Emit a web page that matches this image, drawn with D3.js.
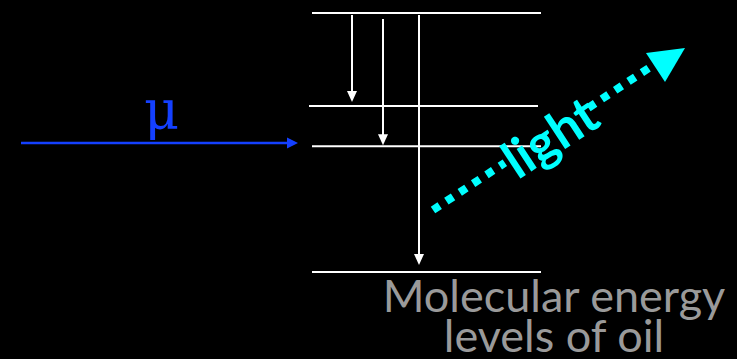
<!DOCTYPE html>
<html><head><meta charset="utf-8">
<script src="https://cdn.jsdelivr.net/npm/d3@7"></script>
<style>html,body{margin:0;padding:0;background:#000;}svg{display:block;}</style>
</head><body>
<script>
// Energy levels (arbitrary energy units, top = excited state)
const levelNames = ["excited", "level2", "level3", "ground"];
const levelEnergy = [10, 6.41, 4.86, 0];
// Transitions (downward arrows): from level -> to level
const transFrom = ["excited", "excited", "excited"];
const transTo = ["level2", "level3", "ground"];
// Labels
const muLabel = "μ";
const lightLabel = "light";
const captionLines = ["Molecular energy", "levels of oil"];

const W = 737, H = 359;
const svg = d3.select("body").append("svg").attr("width", W).attr("height", H)
  .style("background", "#000");

const y = d3.scaleLinear().domain([0, 10]).range([272, 13]);
const eOf = Object.fromEntries(levelNames.map((n, i) => [n, levelEnergy[i]]));
const levelX = d3.scaleOrdinal().domain(levelNames).range([[312, 541], [309, 538], [312, 541], [312, 541]]);
const transX = d3.scaleOrdinal().domain(d3.range(transFrom.length)).range([352, 383, 419]);
const tipGap = [4, 1, 7];
const startGap = [2, 6, 2];

// levels
svg.selectAll("line.level").data(levelNames).join("line")
  .attr("class", "level")
  .attr("x1", d => levelX(d)[0]).attr("x2", d => levelX(d)[1])
  .attr("y1", d => y(eOf[d])).attr("y2", d => y(eOf[d]))
  .attr("stroke", "#fff").attr("stroke-width", 2);

// transition arrows
const trans = transFrom.map((f, i) => ({ i, y0: y(eOf[f]) + startGap[i], y1: y(eOf[transTo[i]]) - tipGap[i] }));
svg.selectAll("line.tr").data(trans).join("line")
  .attr("x1", d => transX(d.i)).attr("x2", d => transX(d.i))
  .attr("y1", d => d.y0).attr("y2", d => d.y1 - 6)
  .attr("stroke", "#fff").attr("stroke-width", 2);
svg.selectAll("path.trh").data(trans).join("path")
  .attr("d", d => { const x = transX(d.i); return `M${x - 5},${d.y1 - 11}L${x + 5},${d.y1 - 11}L${x},${d.y1}Z`; })
  .attr("fill", "#fff");

// incoming muon
const blue = "#1440ff";
svg.append("line").attr("x1", 21).attr("x2", 290).attr("y1", 143).attr("y2", 143)
  .attr("stroke", blue).attr("stroke-width", 2.7);
svg.append("path").attr("d", "M287,137.5L298,143L287,148.5Z").attr("fill", blue);
svg.append("text").attr("x", 144).attr("y", 129).text(muLabel)
  .attr("font-family", "DejaVu Serif").attr("font-size", 54).attr("fill", blue);

// light
const cyan = "#00ffff";
const P0 = [433, 210], P1 = [652, 66];
const L = Math.hypot(P1[0] - P0[0], P1[1] - P0[1]);
const d = [(P1[0] - P0[0]) / L, (P1[1] - P0[1]) / L];
const pt = t => [P0[0] + d[0] * t, P0[1] + d[1] * t];
const segs = [[0, 86], [186, L]];
svg.selectAll("line.lt").data(segs).join("line")
  .attr("x1", s => pt(s[0])[0]).attr("y1", s => pt(s[0])[1])
  .attr("x2", s => pt(s[1])[0]).attr("y2", s => pt(s[1])[1])
  .attr("stroke", cyan).attr("stroke-width", 8).attr("stroke-dasharray", "8 8");
svg.append("path").attr("d", "M646,53L685,48L665,82Z").attr("fill", cyan);
const ang = Math.atan2(d[1], d[0]) * 180 / Math.PI;
const c = pt(138); const n = [-d[1], d[0]];
const tc = [c[0] + n[0] * 21.7, c[1] + n[1] * 21.7];
svg.append("text").attr("transform", `translate(${tc[0]},${tc[1]}) rotate(${ang})`)
  .attr("text-anchor", "middle").attr("font-family", "Lato").attr("font-weight", 700)
  .attr("font-size", 52).attr("fill", cyan).text(lightLabel);

// caption
svg.selectAll("text.cap").data(captionLines).join("text")
  .attr("x", 554).attr("y", (t, i) => 312 + i * 40)
  .attr("text-anchor", "middle").attr("font-family", "Lato").attr("font-size", 45)
  .attr("fill", "#9a9a9a").text(t => t);
</script>
</body></html>
